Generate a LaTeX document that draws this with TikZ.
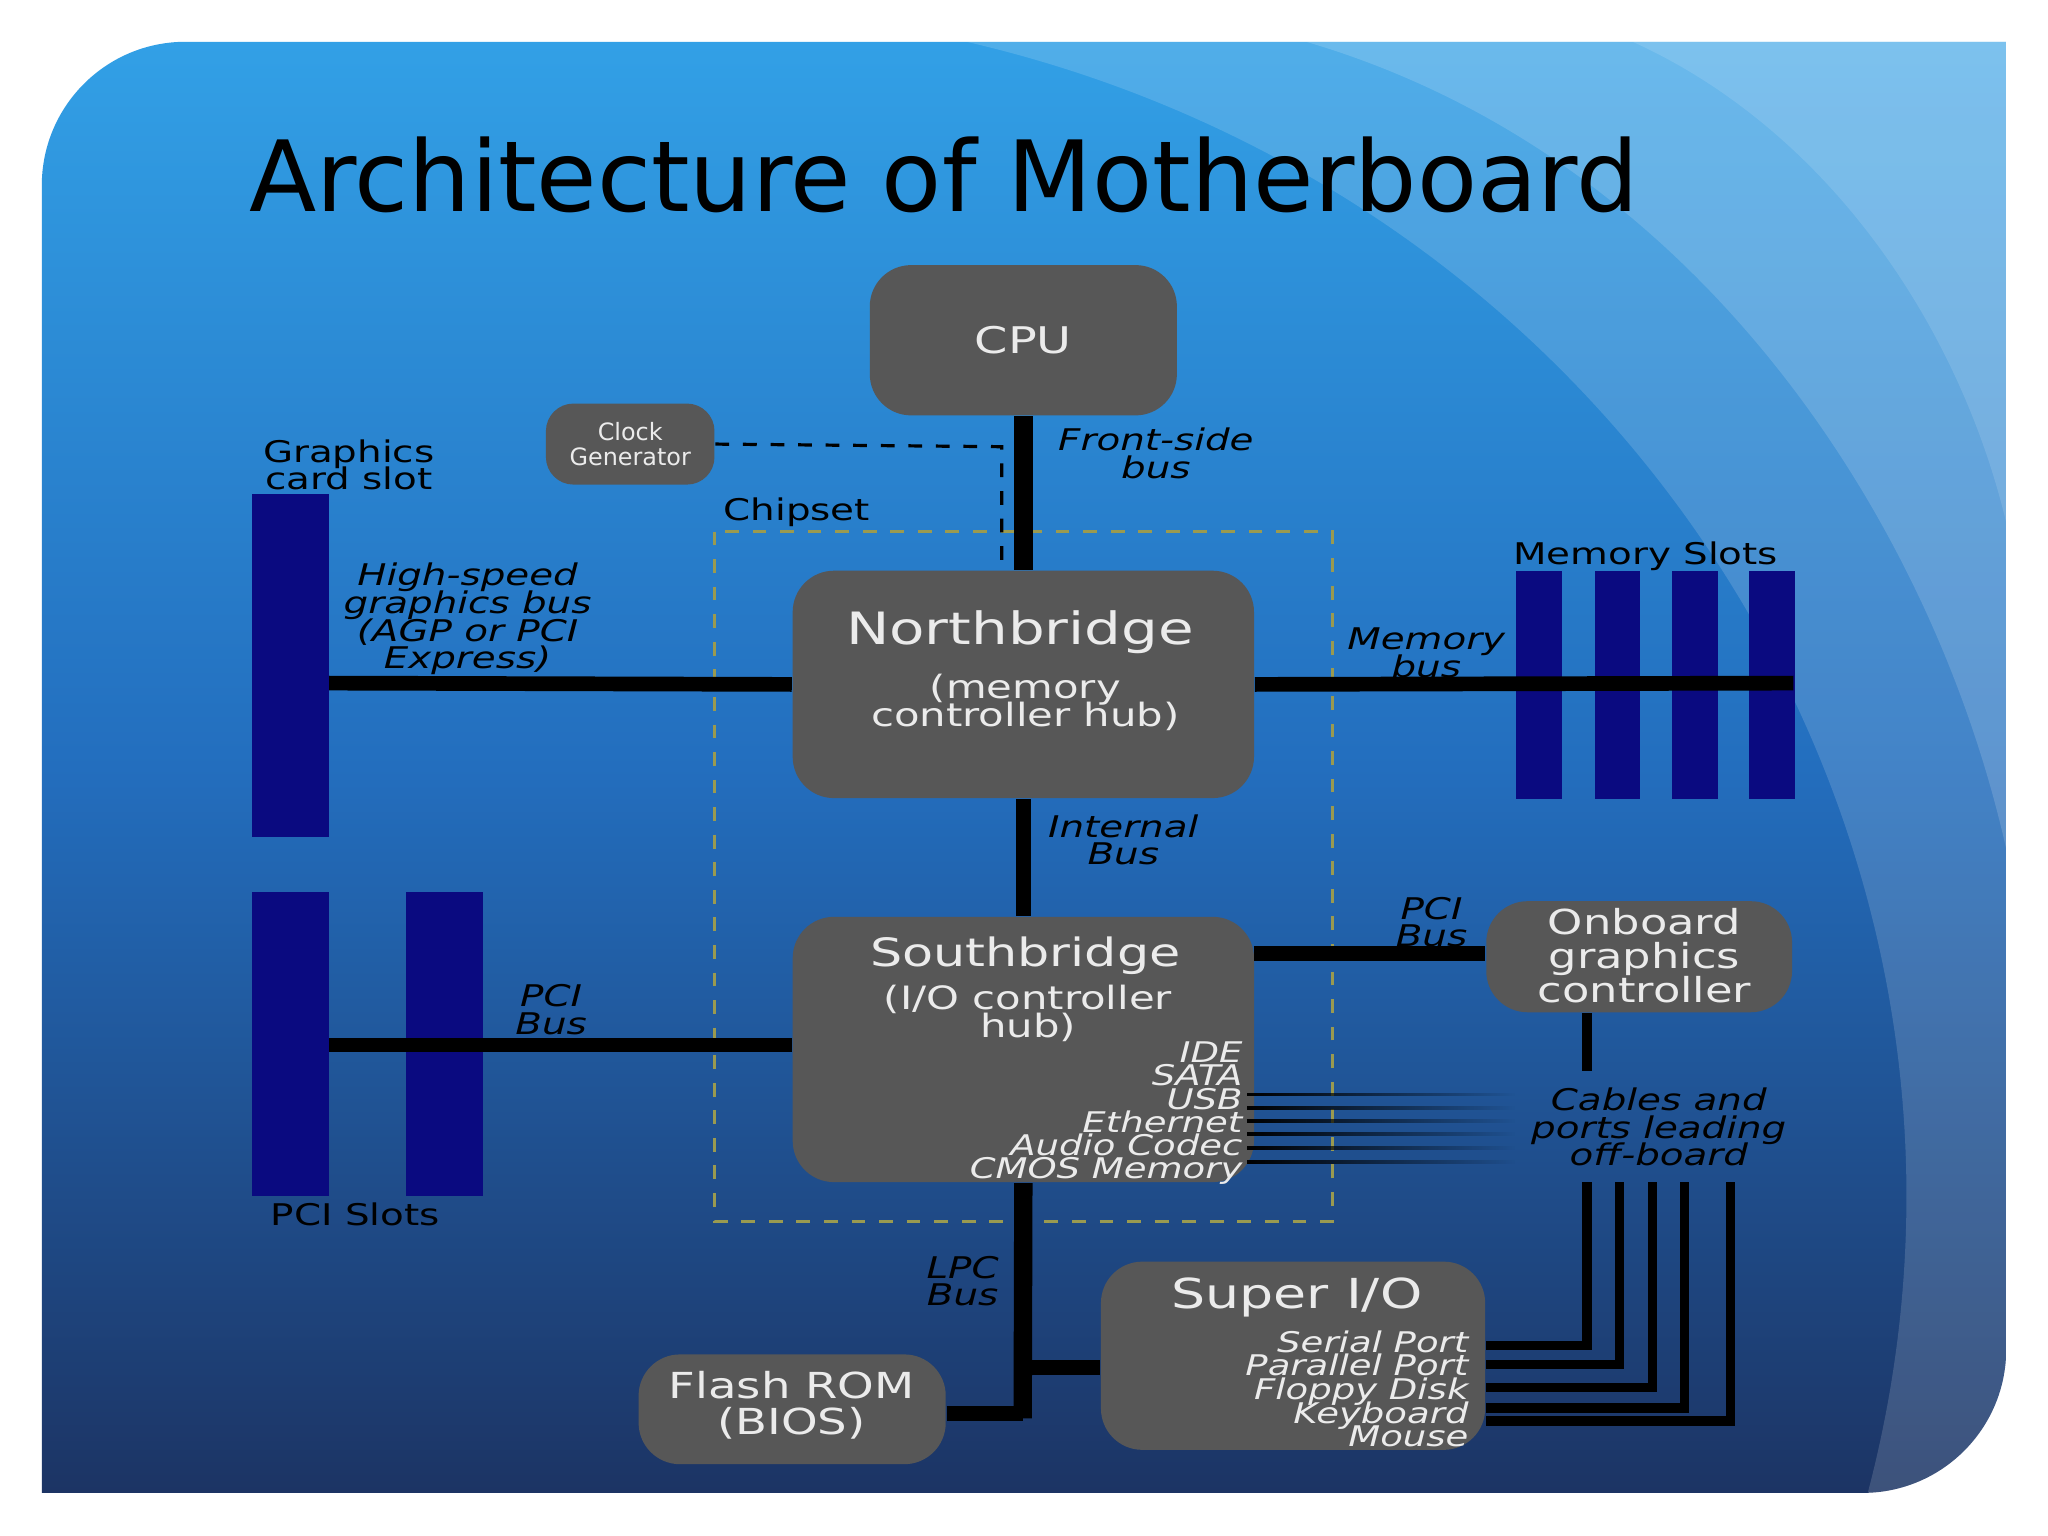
\documentclass[tikz,border=0pt]{standalone}
\usepackage{fontspec}
\setmainfont{DejaVu Sans}
\newfontfamily\widef{DejaVu Sans}[FakeStretch=1.3]
\usetikzlibrary{fadings}
\definecolor{boxgray}{HTML}{575757}
\definecolor{slotblue}{HTML}{0A0A80}
\definecolor{chip}{HTML}{9A9A50}
\begin{document}
\begin{tikzpicture}[x=0.01cm,y=-0.01cm,
  every node/.append style={execute at begin node={\lineskiplimit=-30pt\lineskip=0pt}},
  box/.style={rounded corners=9pt,fill=boxgray,inner sep=0pt},
  slot/.style={fill=slotblue,draw=none},
  bus/.style={line width=3.2pt},
  wire/.style={line width=2pt},
  lbl/.style={font=\widef\fontsize{6.5}{6}\selectfont\itshape,align=center,text=black,inner sep=0pt},
  plain/.style={font=\widef\fontsize{6.5}{6}\selectfont,align=center,text=black,inner sep=0pt},
  wt/.style={text=white!92!black,align=center,inner sep=0pt}]
\useasboundingbox (0,0) rectangle (1568,1176);
\fill[white] (0,0) rectangle (1568,1176);
% panel
\begin{scope}
\clip (32,1143) -- (32,142) arc[start angle=180,end angle=90,x radius=110,y radius=-110] -- (1536,32) -- (1536,1033) arc[start angle=0,end angle=-90,x radius=110,y radius=-110] -- cycle;
\shade[top color={rgb,255:red,50;green,160;blue,230},bottom color={rgb,255:red,28;green,52;blue,100},middle color={rgb,255:red,35;green,110;blue,190}] (32,32) rectangle (1536,1143);
\fill[white,opacity=0.15] (740,32) .. controls (1250,150) and (1560,650) .. (1430,1143) -- (1536,1143) -- (1536,32) -- cycle;
\fill[white,opacity=0.15] (1000,32) .. controls (1300,120) and (1480,400) .. (1536,650) -- (1536,32) -- cycle;
\fill[white,opacity=0.12] (1250,32) .. controls (1400,100) and (1500,250) .. (1536,400) -- (1536,32) -- cycle;
\end{scope}
\node[anchor=base west,inner sep=0pt,font=\fontsize{21.4}{24}\selectfont] (title) at (190,162) {Architecture of Motherboard};
% chipset
\draw[chip,dashed,line width=0.6pt] (547,407) rectangle (1020,935);
\node[plain] (chipl) at (610,392) {Chipset};
% slots
\fill[slot] (193,378) rectangle (252,641);
\coordinate (gs) at (252,523);
\fill[slot] (193,683) rectangle (252,916);
\fill[slot] (311,683) rectangle (370,916);
\coordinate (ps) at (252,800);
\foreach \x in {1161,1221,1280,1339}{\fill[slot] (\x,437) rectangle (\x+35,612);}
\coordinate (ms) at (1373,523);
% boxes
\node[box,minimum width=2.35cm,minimum height=1.15cm] (cpu) at (783.5,260.5) {};
\node[wt,font=\widef\fontsize{8}{10}\selectfont] at (cpu) {CPU};
\node[box,minimum width=1.29cm,minimum height=0.62cm,rounded corners=6pt] (clk) at (482.5,340) {};
\node[wt,font=\fontsize{5.2}{5.4}\selectfont] at (clk) {Clock\\Generator};
\node[box,minimum width=3.53cm,minimum height=1.74cm] (nb) at (783.5,524) {};
\node[wt,font=\widef\fontsize{9.7}{13}\selectfont] at (781,484) {Northbridge};
\node[wt,font=\widef\fontsize{7}{6}\selectfont] at (785,538) {(memory\\controller hub)};
\node[box,minimum width=3.53cm,minimum height=2.03cm] (sb) at (783.5,803.5) {};
\node[wt,font=\widef\fontsize{8.5}{11}\selectfont] at (785,732) {Southbridge};
\node[wt,font=\widef\fontsize{7}{6}\selectfont] at (787,776) {(I/O controller\\hub)};
\node[wt,anchor=north east,align=right,font=\widef\fontsize{6.2}{5.05}\selectfont\itshape] (sbl) at (952,797) {IDE\\SATA\\USB\\Ethernet\\Audio Codec\\CMOS Memory};
\node[box,minimum width=2.34cm,minimum height=0.85cm] (og) at (1255,732.5) {};
\node[wt,font=\widef\fontsize{7.5}{7.4}\selectfont] at (1259,732) {Onboard\\graphics\\controller};
\node[box,minimum width=2.94cm,minimum height=1.44cm] (sio) at (990,1038) {};
\node[wt,font=\widef\fontsize{9}{11}\selectfont] at (993,993) {Super I/O};
\node[wt,anchor=north east,align=right,font=\widef\fontsize{6.2}{5.15}\selectfont\itshape] at (1125,1018) {Serial Port\\Parallel Port\\Floppy Disk\\Keyboard\\Mouse};
\node[box,minimum width=2.35cm,minimum height=0.84cm] (fr) at (606.5,1079) {};
\node[wt,font=\widef\fontsize{7.8}{7.7}\selectfont] at (606,1076) {Flash ROM\\(BIOS)};
% buses
\draw[line width=4.2pt] (cpu.south) -- (nb.north);
\draw[dashed,line width=0.7pt] (clk.east) -- (767,342) -- (767,437);
\draw[bus] (gs) -- (nb.west);
\draw[bus] (nb.east) -- (ms);
\draw[bus] (nb.south) -- (sb.north);
\draw[bus] (ps) -- (sb.west |- ps);
\coordinate (pr) at (960,730);
\draw[bus] (pr) -- (og.west |- pr);
\coordinate (lpcend) at (783,1082);
\draw[line width=4pt] (sb.south) -- (783,1086);
\draw[bus] (fr.east |- lpcend) -- (lpcend);
\draw[bus] (783,1047) -- (sio.west |- 0,1047);
\coordinate (ogd) at (1215,820);
\draw[wire] (og.south -| ogd) -- (ogd);
\foreach \y in {838,848,858,868,879,890}{\fill[black,path fading=east] (955,\y-1.5) rectangle (1160,\y+1.5);}
\foreach \y/\x in {1030/1215,1045/1240,1062/1265,1078/1290,1088/1325}{\draw[wire] (sio.east |- 0,\y) -- (\x,\y) -- (\x,905);}
% labels
\node[plain] at (267,356) {Graphics\\card slot};
\node[lbl] at (358,474) {High-speed\\graphics bus\\(AGP or PCI\\Express)};
\node[lbl] at (885,347) {Front-side\\bus};
\node[plain] at (1260,426) {Memory Slots};
\node[lbl] at (1092,500) {Memory\\bus};
\node[lbl] at (860,643) {Internal\\Bus};
\node[lbl] at (1096,706) {PCI\\Bus};
\node[lbl] at (422,773) {PCI\\Bus};
\node[plain] at (272,930) {PCI Slots};
\node[lbl] at (1270,863) {Cables and\\ports leading\\off-board};
\node[lbl] at (737,981) {LPC\\Bus};
\end{tikzpicture}
\end{document}
